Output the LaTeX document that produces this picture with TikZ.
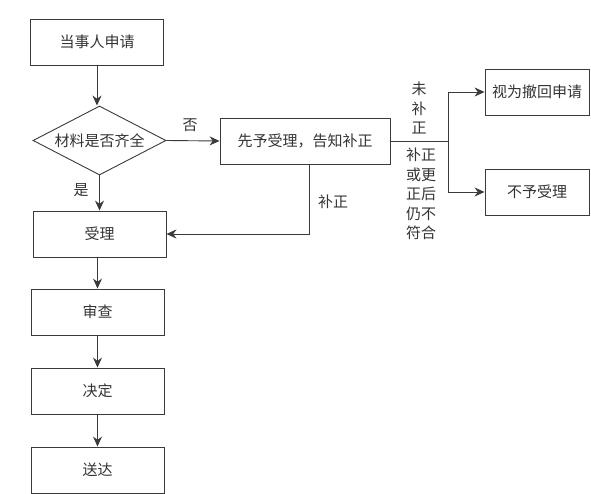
\documentclass[tikz,border=0pt]{standalone}
\usepackage{fontspec}
\setmainfont{Noto Sans CJK SC}
\usetikzlibrary{shapes.geometric,arrows.meta}
\definecolor{ln}{HTML}{3A3A3A}
\definecolor{tx}{HTML}{333333}
\begin{document}
\begin{tikzpicture}[x=1pt,y=-1pt,
  box/.style={draw=ln,line width=0.9pt,rectangle,minimum width=133pt,minimum height=46pt,inner sep=0pt,text=tx,font=\fontsize{15}{19}\selectfont},
  dia/.style={draw=ln,line width=0.9pt,diamond,aspect=1.93,minimum width=133pt,minimum height=69pt,inner sep=0pt,text=tx,font=\fontsize{15}{19}\selectfont},
  lbl/.style={text=tx,font=\fontsize{15}{19.5}\selectfont,inner sep=0pt,align=center},
  arr/.style={draw=ln,line width=0.9pt,-{Stealth[length=10pt,width=9pt]}},
  ln/.style={draw=ln,line width=0.9pt}]
\useasboundingbox (0,0) rectangle (591,494);
\node[box] (a) at (97,42) {当事人申请};
\node[dia] (d) at (99.5,140.5) {材料是否齐全};
\node[box] (b) at (99.5,234) {受理};
\node[box] (c) at (97.5,312) {审查};
\node[box] (e) at (97.5,391) {决定};
\node[box] (f) at (97.5,470) {送达};
\node[box,minimum width=170pt] (g) at (305,141) {先予受理，告知补正};
\node[box,minimum width=104pt] (h) at (537,92) {视为撤回申请};
\node[box,minimum width=104pt] (i) at (537,192) {不予受理};
\coordinate (j) at (309,234);
\coordinate (k) at (448,141);
\draw[arr] (a.south) -- (a.south |- d.north);
\draw[arr] (d.south) -- (d.south |- b.north);
\draw[arr] (b.south -| c.north) -- (c.north);
\draw[arr] (c.south) -- (e.north);
\draw[arr] (e.south) -- (f.north);
\draw[arr] (d.east) -- (g.west);
\draw[arr] (g.south -| j) -- (j) -- (b.east |- j);
\draw[ln] (g.east) -- (k);
\draw[arr] (k) -- (k |- h.west) -- (h.west);
\draw[arr] (k) -- (k |- i.west) -- (i.west);
\node[lbl] (ly) at (81,190) {是};
\node[lbl] (ln1) at (190,125) {否};
\node[lbl] (lb) at (333,202) {补正};
\node[lbl] (lw) at (419,108) {未\\补\\正};
\node[lbl] (lf) at (421,194) {补正\\或更\\正后\\仍不\\符合};
\end{tikzpicture}
\end{document}
